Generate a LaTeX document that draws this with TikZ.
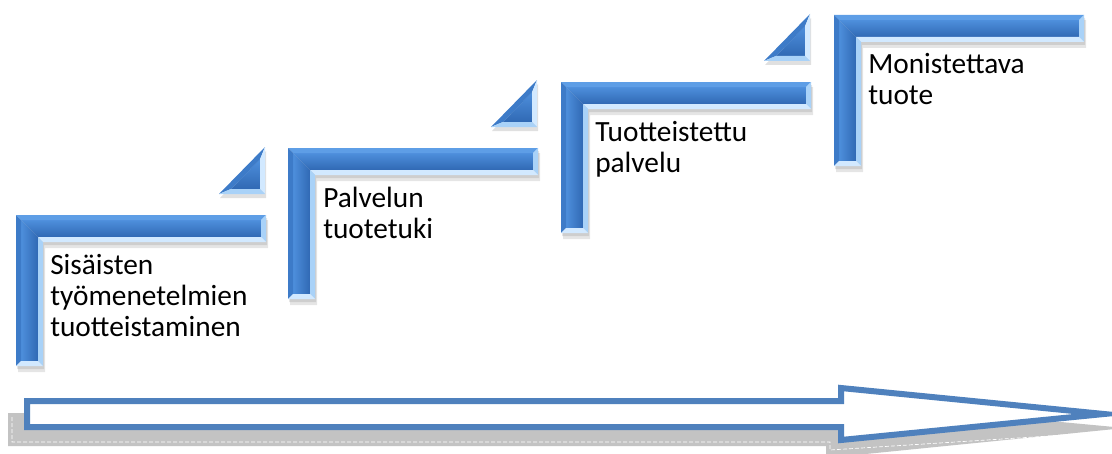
\documentclass[tikz,border=0pt]{standalone}
\usepackage{fontspec}
\setmainfont{Carlito}
\definecolor{arrowblue}{HTML}{4F81BD}
\definecolor{facetop}{HTML}{4E8FDC}
\definecolor{facebot}{HTML}{3069B4}
\definecolor{bevtop}{HTML}{5E9EE6}
\definecolor{bevleft}{HTML}{3D7BC8}
\definecolor{bevlight}{HTML}{D2E9FF}
\definecolor{bevmid}{HTML}{A9D2F8}
\definecolor{shadowgray}{HTML}{C3C3C3}
\tikzset{
  steptext/.style={anchor=base west, align=left, inner sep=0pt, font=\fontsize{22pt}{23.25pt}\selectfont, text=black},
  pics/stepL/.style={code={
    \fill[black,opacity=0.10] (2,5)--(252,5)--(252,33)--(29,33)--(29,157)--(2,157)--cycle;
    \fill[black,opacity=0.10] (1,3)--(251,3)--(251,30)--(28,30)--(28,154)--(1,154)--cycle;
    \shade[top color=facetop, bottom color=facebot] (5,5)--(245,5)--(245,22)--(22,22)--cycle;
    \shade[left color=facetop, right color=facebot] (5,5)--(22,22)--(22,146)--(5,146)--cycle;
    \fill[bevtop] (0,0)--(250,0)--(245,5)--(5,5)--cycle;
    \fill[bevleft] (0,0)--(5,5)--(5,146)--(0,151)--cycle;
    \fill[bevmid] (250,0)--(250,27)--(245,22)--(245,5)--cycle;
    \fill[bevlight] (250,27)--(27,27)--(22,22)--(245,22)--cycle;
    \fill[bevmid] (27,27)--(27,151)--(22,146)--(22,22)--cycle;
    \fill[bevlight] (0,151)--(27,151)--(22,146)--(5,146)--cycle;
  }},
  pics/stepTri/.style={code={
    \fill[black,opacity=0.12] (1,4)--(1,51)--(-45,51)--cycle;
    \shade[top color=facetop, bottom color=facebot] (-5,12.3)--(-5,42)--(-34.1,42)--cycle;
    \fill[bevleft] (0,0)--(-46,47)--(-34.1,42)--(-5,12.3)--cycle;
    \fill[bevlight] (0,0)--(0,47)--(-5,42)--(-5,12.3)--cycle;
    \fill[bevmid] (0,47)--(-46,47)--(-34.1,42)--(-5,42)--cycle;
  }}
}
\begin{document}
\begin{tikzpicture}[x=0.75pt,y=-0.75pt]
\useasboundingbox (0,0) rectangle (1112,453);
% bottom arrow with shadow
\fill[shadowgray] (8,413)--(826,413)--(826,400)--(1125,428)--(826,458)--(826,446)--(8,446)--cycle;
\draw[white, line width=0.5pt, dash pattern=on 3pt off 1.5pt] (12,417)--(12,442)--(830,442)--(830,450)--(1112,432);
\draw[arrowblue, line width=4.5pt, fill=white, miter limit=20] (27,401)--(841,401)--(841,388)--(1104,414)--(841,440)--(841,427)--(27,427)--cycle;
% steps
\pic at (16,215) {stepL};
\pic at (288,148) {stepL};
\pic at (561,82) {stepL};
\pic at (834,15) {stepL};
\pic at (265,147) {stepTri};
\pic at (537,80) {stepTri};
\pic at (810,14) {stepTri};
% texts (base anchor = last line)
\node[steptext] (t1) at (50,336) {Sisäisten\\työmenetelmien\\tuotteistaminen};
\node[steptext] (t2) at (323,238) {Palvelun\\tuotetuki};
\node[steptext] (t3) at (595,172) {Tuotteistettu\\palvelu};
\node[steptext] (t4) at (868,104) {Monistettava\\tuote};
\end{tikzpicture}
\end{document}
